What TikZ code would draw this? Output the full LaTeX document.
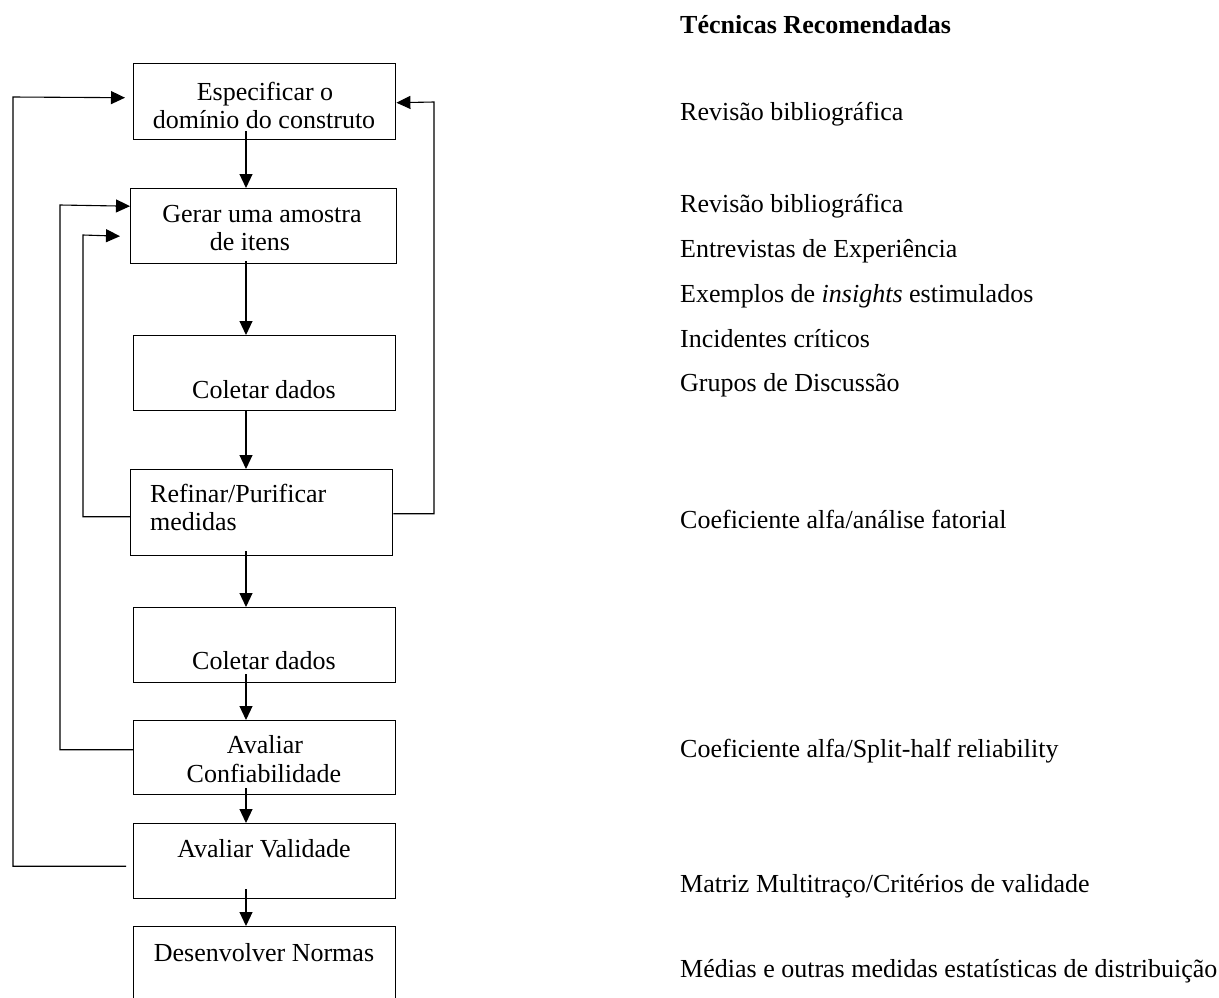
\documentclass[tikz,border=0pt]{standalone}
\usepackage{fontspec}
\setmainfont{Liberation Serif}
\usetikzlibrary{arrows.meta,calc}
\begin{document}
\begin{tikzpicture}[x=1pt,y=-1pt,
  box/.style={draw,line width=1.4pt,inner sep=0pt,anchor=north west,minimum width=262pt},
  lbl/.style={font=\fontsize{26}{30}\selectfont,inner sep=0pt,anchor=base},
  lblw/.style={font=\fontsize{26}{30}\selectfont,inner sep=0pt,anchor=base west},
  tech/.style={font=\fontsize{26}{30}\selectfont,inner sep=0pt,anchor=base west},
  flow/.style={line width=1.1pt,-{Triangle[length=14pt,width=13pt]}},
  link/.style={line width=1.1pt}]
\clip (0,0) rectangle (1219,997);

% process boxes
\node[box,minimum height=76pt] (b1) at (133,63) {};
\node[box,minimum width=266pt,minimum height=75pt] (b2) at (130,188) {};
\node[box,minimum height=75pt] (b3) at (133,335) {};
\node[box,minimum height=86pt] (b4) at (130,469) {};
\node[box,minimum height=75pt] (b5) at (133,607) {};
\node[box,minimum height=74pt] (b6) at (133,720) {};
\node[box,minimum height=75pt] (b7) at (133,823) {};
\node[box,minimum height=90pt] (b8) at (133,926) {};

% box texts
\node[lbl] (t1a) at (265,100) {Especificar o};
\node[lbl] (t1b) at (264,128) {domínio do construto};
\node[lbl] (t2a) at (262,222) {Gerar uma amostra};
\node[lbl] (t2b) at (250,250) {de itens};
\node[lbl] (t3) at (264,398) {Coletar dados};
\node[lblw] (t4a) at (150,502) {Refinar/Purificar};
\node[lblw] (t4b) at (150,530) {medidas};
\node[lbl] (t5) at (264,669) {Coletar dados};
\node[lbl] (t6a) at (265,753) {Avaliar};
\node[lbl] (t6b) at (264,782) {Confiabilidade};
\node[lbl] (t7) at (264,857) {Avaliar Validade};
\node[lbl] (t8) at (264,961) {Desenvolver Normas};

% main flow
\coordinate (ax) at (246,0);
\draw[flow] ($(ax |- b1.south)+(0,-9)$) -- (ax |- b2.north);
\draw[flow] ($(ax |- b2.south)+(0,-3)$) -- (ax |- b3.north);
\draw[flow] (ax |- b3.south) -- (ax |- b4.north);
\draw[flow] ($(ax |- b4.south)+(0,-5)$) -- (ax |- b5.north);
\draw[flow] ($(ax |- b5.south)+(0,-9)$) -- (ax |- b6.north);
\draw[flow] ($(ax |- b6.south)+(0,-7)$) -- (ax |- b7.north);
\draw[flow] ($(ax |- b7.south)+(0,-10)$) -- (ax |- b8.north);

% feedback loops
\draw[flow] ($(b7.west)+(-7,5)$) -| (13,97) -- ($(b1.west)+(-8,-4)$);
\draw[flow] ($(b6.west)+(0,-8)$) -| (60,205) -- ($(b2.west)+(0,-20)$);
\draw[flow] ($(b4.west)+(0,4)$) -| (83,235) -- ($(b2.west)+(-10,10)$);
\draw[flow] ($(b4.east)+(0,1)$) -| (434,102) -- ($(b1.east)+(0,1)$);

% recommended techniques
\node[tech,font=\fontsize{26}{30}\selectfont\bfseries] (h) at (680,33) {Técnicas Recomendadas};
\node[tech] (r1) at (680,120) {Revisão bibliográfica};
\node[tech] (r2) at (680,212) {Revisão bibliográfica};
\node[tech] (r3) at (680,257) {Entrevistas de Experiência};
\node[tech] (r4) at (680,302) {Exemplos de \textit{insights} estimulados};
\node[tech] (r5) at (680,347) {Incidentes críticos};
\node[tech] (r6) at (680,391) {Grupos de Discussão};
\node[tech] (r7) at (680,528) {Coeficiente alfa/análise fatorial};
\node[tech] (r8) at (680,757) {Coeficiente alfa/Split-half reliability};
\node[tech] (r9) at (680,892) {Matriz Multitraço/Critérios de validade};
\node[tech] (r10) at (680,977) {Médias e outras medidas estatísticas de distribuição};
\end{tikzpicture}
\end{document}
